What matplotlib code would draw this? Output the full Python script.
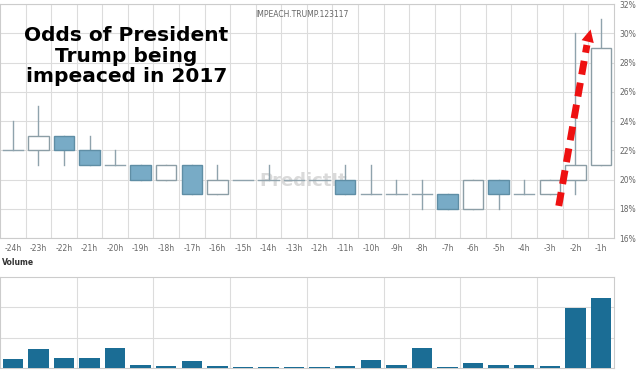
import matplotlib.pyplot as plt
from matplotlib.patches import Rectangle

labels = ['-24h', '-23h', '-22h', '-21h', '-20h', '-19h', '-18h', '-17h',
          '-16h', '-15h', '-14h', '-13h', '-12h', '-11h', '-10h', '-9h',
          '-8h', '-7h', '-6h', '-5h', '-4h', '-3h', '-2h', '-1h']
opens = [22, 22, 23, 22, 21, 21, 20, 21, 19, 20, 20, 20, 20, 20, 19, 19,
         19, 19, 18, 20, 19, 19, 20, 21]
closes = [22, 23, 22, 21, 21, 20, 21, 19, 20, 20, 20, 20, 20, 19, 19, 19,
          19, 18, 20, 19, 19, 20, 21, 29]
highs = [24, 25, 23, 23, 22, 21, 21, 21, 21, 20, 21, 20, 20, 21, 21, 20,
         20, 19, 20, 20, 20, 20, 30, 31]
lows = [22, 21, 21, 21, 21, 20, 20, 19, 19, 20, 20, 20, 20, 19, 19, 19,
        18, 18, 18, 18, 19, 19, 19, 21]
volume = [0.31, 0.64, 0.33, 0.33, 0.66, 0.11, 0.07, 0.22, 0.05, 0.02, 0.04,
          0.02, 0.02, 0.05, 0.25, 0.11, 0.66, 0.02, 0.15, 0.11, 0.11, 0.05,
          1.99, 2.31]
y_ticks = [16, 18, 20, 22, 24, 26, 28, 30, 32]

grid_c = '#dcdcdc'
wick_c = '#8fa3ad'
fill_c = '#78abc6'
edge_c = '#5f8ea5'

fig = plt.figure(figsize=(6.4, 3.72), dpi=100)
ax = fig.add_axes([0.0, 0.360, 0.959, 0.629])
axv = fig.add_axes([0.0, 0.011, 0.959, 0.244])

x = list(range(len(labels)))
w = 0.8

for i in x:
    o, c, h, l = opens[i], closes[i], highs[i], lows[i]
    ax.plot([i, i], [l, h], color=wick_c, lw=1, zorder=2)
    if o == c:
        ax.plot([i - w / 2, i + w / 2], [o, o], color=wick_c, lw=1, zorder=3)
    else:
        lo = min(o, c)
        down = c < o
        ax.add_patch(Rectangle((i - w / 2, lo), w, abs(c - o),
                               facecolor=fill_c if down else 'white',
                               edgecolor=edge_c if down else '#8c9ea6',
                               lw=1, zorder=3))

ax.set_xlim(-0.5, 23.5)
ax.set_ylim(16, 32)
ax.set_xticks(x)
ax.set_xticklabels(labels)
ax.set_xticks([i + 0.5 for i in x[:-1]], minor=True)
ax.set_yticks(y_ticks)
ax.set_yticklabels([f'{v}%' for v in y_ticks])
ax.yaxis.tick_right()
ax.tick_params(axis='both', which='both', length=0, labelsize=5.5,
               labelcolor='#666666', pad=4)
ax.grid(True, axis='y', color=grid_c, lw=0.8)
ax.grid(True, axis='x', which='minor', color=grid_c, lw=0.8)
for s in ax.spines.values():
    s.set_color('#cccccc')

ax.text(4.45, 28.45, 'Odds of President\nTrump being\nimpeaced in 2017',
        ha='center', va='center', fontsize=14.5, fontweight='bold',
        color='black', linespacing=1.1, zorder=5)
ax.text(9.5, 31.1, 'IMPEACH.TRUMP.123117', fontsize=5.5, color='#666666')
ax.text(11.35, 19.9, 'PredictIt', ha='center', va='center', fontsize=13,
        fontweight='bold', color='#dadada', zorder=1)

# red dashed arrow
ax.plot([21.35, 22.45], [18.2, 29.2], color='#ee1111', lw=5,
        ls=(0, (2.0, 1.2)), zorder=6, solid_capstyle='butt')
ax.annotate('', xy=(22.62, 30.45), xytext=(22.42, 29.0),
            arrowprops=dict(arrowstyle='-|>,head_width=0.45,head_length=0.9',
                            color='#ee1111', lw=0), zorder=6)

axv.bar(x, volume, width=w, color='#1b6d95', zorder=3)
axv.set_xlim(-0.5, 23.5)
axv.set_ylim(0, 3)
axv.set_yticks([1, 2])
axv.set_xticks([2.5, 5.5, 8.5, 11.5, 14.5, 17.5, 20.5])
axv.tick_params(length=0, labelbottom=False, labelleft=False)
axv.grid(True, color=grid_c, lw=0.8, zorder=0)
for s in axv.spines.values():
    s.set_color('#cccccc')
fig.text(0.003, 0.287, 'Volume', fontsize=5.5, fontweight='bold', color='#333333')

fig.savefig('out.png', dpi=100)
